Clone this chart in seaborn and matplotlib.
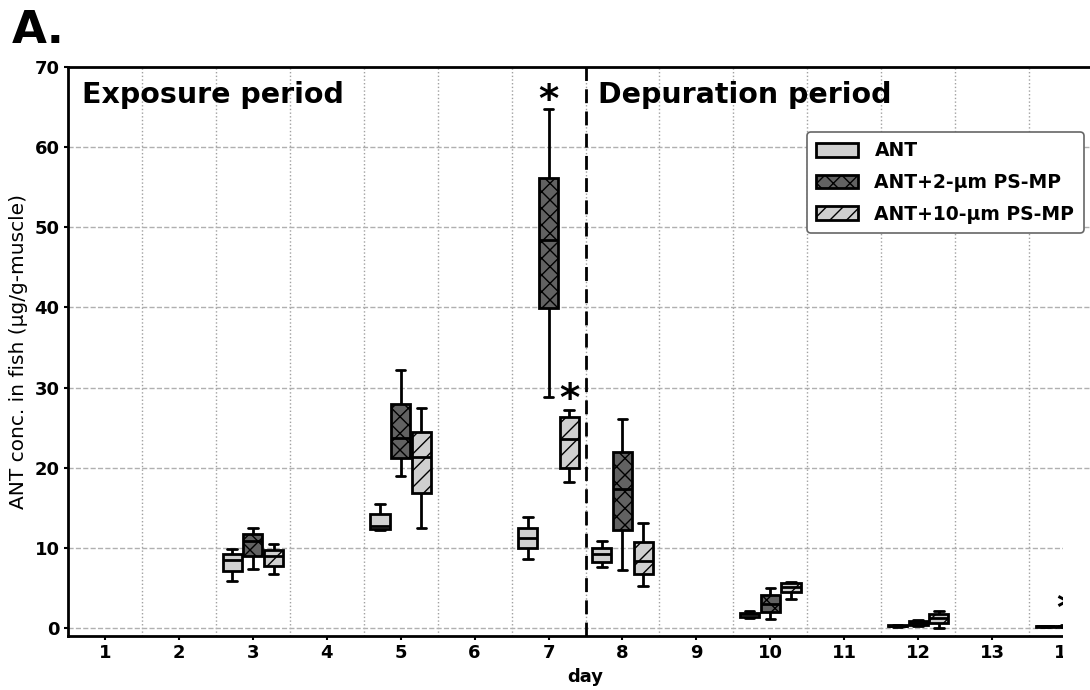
import numpy as np
import pandas as pd
import matplotlib
matplotlib.use("Agg")
import matplotlib.pyplot as plt
from matplotlib.patches import Patch, Rectangle
import seaborn as sns

# ---------------- data (box stats: low whisker, Q1, median, Q3, high whisker) ----------
days = [3, 5, 7, 8, 10, 12, 14]
groups = ["ANT", "ANT+2-µm PS-MP", "ANT+10-µm PS-MP"]

ant_stats = [
    (5.9, 7.1, 8.5, 9.2, 9.9),
    (12.2, 12.4, 12.7, 14.2, 15.5),
    (8.6, 10.0, 11.2, 12.5, 13.8),
    (7.6, 8.2, 9.2, 10.0, 10.9),
    (1.3, 1.4, 1.7, 1.9, 2.1),
    (0.15, 0.2, 0.25, 0.35, 0.4),
    (0.1, 0.15, 0.2, 0.25, 0.3),
]
mp2_stats = [
    (7.4, 9.0, 10.8, 11.7, 12.5),
    (19.0, 21.2, 23.7, 28.0, 32.2),
    (28.8, 39.9, 48.4, 56.2, 64.7),
    (7.2, 12.25, 17.4, 21.9, 26.1),
    (1.1, 1.95, 3.0, 4.15, 5.0),
    (0.3, 0.4, 0.6, 0.9, 0.95),
    (0.1, 0.15, 0.2, 0.3, 0.35),
]
mp10_stats = [
    (6.7, 7.7, 9.0, 9.7, 10.5),
    (12.5, 16.8, 21.3, 24.5, 27.5),
    (18.2, 20.0, 23.6, 26.3, 27.2),
    (5.3, 6.75, 8.4, 10.7, 13.1),
    (3.65, 4.5, 5.1, 5.6, 5.8),
    (0.0, 0.6, 1.25, 1.8, 2.1),
    (0.2, 0.4, 0.7, 1.0, 1.2),
]

# significance marks: (day, group, y)
star_days = [7, 7, 14]
star_groups = ["ANT+2-µm PS-MP", "ANT+10-µm PS-MP", "ANT+2-µm PS-MP"]
star_y = [65.8, 28.4, 2.2]

period_labels = ["Exposure period", "Depuration period"]

# ---------------- build long-form table ----------------
rows = []
for g, stats in zip(groups, [ant_stats, mp2_stats, mp10_stats]):
    for d, s in zip(days, stats):
        for v in s:
            rows.append((d, g, v))
df = pd.DataFrame(rows, columns=["day", "group", "conc"])

sns.set_theme(style="white")
plt.rcParams["font.family"] = ["DejaVu Sans"]
plt.rcParams["hatch.linewidth"] = 1.0
for k in ["text.color", "axes.labelcolor", "xtick.color", "ytick.color"]:
    plt.rcParams[k] = "black"

palette = {"ANT": "#d0d0d0", "ANT+2-µm PS-MP": "#626262", "ANT+10-µm PS-MP": "#cfcfcf"}
hatches = {"ANT": "", "ANT+2-µm PS-MP": "xx", "ANT+10-µm PS-MP": "//"}

fig = plt.figure(figsize=(10.9, 6.9), dpi=100)
ax = fig.add_axes([68 / 1090, 54 / 690, 1035 / 1090, 569 / 690])

sns.boxplot(data=df, x="day", y="conc", hue="group", hue_order=groups,
            native_scale=True, width=0.84, gap=0.08, whis=(0, 100),
            palette=palette, saturation=1, linecolor="black", linewidth=2.0,
            showfliers=False, legend=False, ax=ax)

# hatch by dodge offset
for cont in ax.containers:
    for box in getattr(cont, "boxes", []):
        v = box.get_path().vertices
        cx = (v[:, 0].min() + v[:, 0].max()) / 2
        off = cx - round(cx)
        if off < -0.1:
            g = groups[0]
        elif off > 0.1:
            g = groups[2]
        else:
            g = groups[1]
        box.set_hatch(hatches[g])

ax.set_xlim(0.5, 14.5)
ax.set_ylim(-1, 70)
ax.set_xticks(range(1, 15))
ax.set_xticklabels([str(i) for i in range(1, 15)])
ax.set_xticks(np.arange(1.5, 14.5, 1), minor=True)
ax.set_yticks(range(0, 71, 10))
ax.set_axisbelow(True)
ax.grid(False)
ax.xaxis.grid(True, which="minor", linestyle=":", color="#a0a0a0", linewidth=1.0)
ax.yaxis.grid(True, which="major", linestyle="--", color="#b0b0b0", linewidth=1.0)
ax.tick_params(which="minor", length=0)
ax.tick_params(which="major", bottom=True, left=True, direction="out",
               length=3, width=1.5, color="black", labelsize=13, pad=3)
for lab in ax.get_xticklabels() + ax.get_yticklabels():
    lab.set_fontweight("bold")
for sp in ax.spines.values():
    sp.set_linewidth(2)
    sp.set_color("black")

ax.axvline(7.5, color="black", linestyle=(0, (5, 3)), linewidth=2, zorder=4)

ax.set_xlabel("day", fontsize=13, fontweight="bold", labelpad=4)
ax.set_ylabel("ANT conc. in fish (µg/g-muscle)", fontsize=14.5, labelpad=5)

ax.text(0.69, 68.3, period_labels[0], fontsize=20.5, fontweight="bold", va="top", ha="left")
ax.text(7.67, 68.3, period_labels[1], fontsize=20.5, fontweight="bold", va="top", ha="left")

offs = {groups[0]: -0.28, groups[1]: 0.0, groups[2]: 0.28}
for d, g, y in zip(star_days, star_groups, star_y):
    ax.text(d + offs[g], y, "*", fontsize=28, fontweight="bold", ha="center", va="center")

handles = [Patch(facecolor=palette[g], edgecolor="black", hatch=hatches[g], linewidth=2.0)
           for g in groups]
leg = ax.legend(handles, groups, loc="upper left", bbox_to_anchor=(0.714, 0.886),
                prop={"weight": "bold", "size": 13.5}, frameon=True, fancybox=True,
                edgecolor="#666666", framealpha=1, handlelength=2.2, handleheight=0.75,
                labelspacing=0.68, borderaxespad=0, borderpad=0.5, handletextpad=0.9)
leg.get_frame().set_linewidth(1.2)

fig.text(12 / 1090, 1 - 43 / 690, "A.", fontsize=32.5, fontweight="bold",
         va="baseline", ha="left")

# white mask present in the reference at the lower right edge
fig.add_artist(Rectangle((1063 / 1090, 0), 30 / 1090, (690 - 520) / 690,
                         transform=fig.transFigure, facecolor="white",
                         edgecolor="none", zorder=100))

fig.savefig("out.png", dpi=100)
